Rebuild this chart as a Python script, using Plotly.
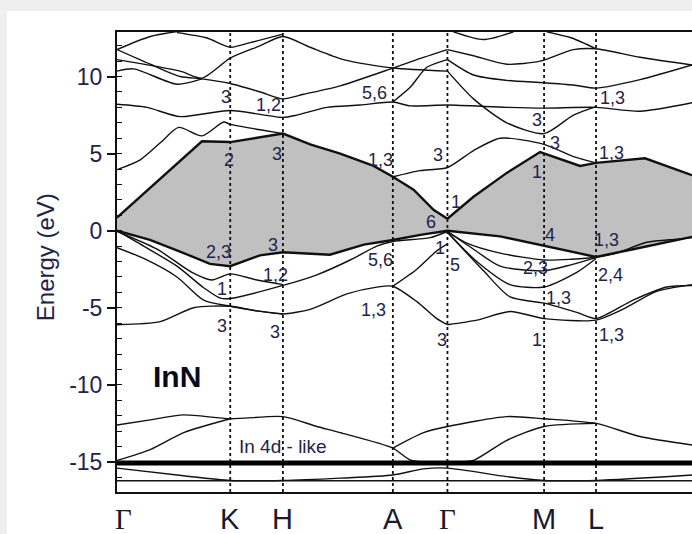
import plotly.graph_objects as go

# ---------------- data ----------------
K_LABELS = ["Γ", "K", "H", "A", "Γ", "M", "L"]
K_POS = [0.0, 1.133, 1.660, 2.760, 3.306, 4.273, 4.793]
K_END = 5.753
E_MIN, E_MAX = -16.95, 12.89
Y_TICKS = [10, 5, 0, -5, -10, -15]
Y_TICK_TEXT = ["10", "5", "0", "-5", "-10", "-15"]

# lowest conduction band (bold)
cb1_k = [0, 0.85, 1.133, 1.66, 1.933, 2.233, 2.567, 2.76, 2.967, 3.167, 3.306, 3.567, 3.90, 4.233, 4.633, 4.793, 5.283, 5.753]
cb1_e = [0.85, 5.8, 5.75, 6.3, 5.6, 5.0, 4.2, 3.5, 2.66, 1.36, 0.78, 2.2, 3.75, 5.1, 4.2, 4.4, 4.7, 3.6]
# top valence band (bold)
vb1_k = [0, 0.33, 0.63, 0.93, 1.133, 1.43, 1.66, 1.80, 2.13, 2.47, 2.76, 3.05, 3.306, 3.833, 4.273, 4.793, 5.163, 5.753]
vb1_e = [0, -0.6, -1.35, -2.15, -2.3, -1.6, -1.4, -1.45, -1.56, -0.9, -0.6, -0.25, 0, -0.37, -1.0, -1.7, -1.2, -0.4]

# other valence bands
vb2_k = [0, 0.267, 0.6, 0.867, 1.033, 1.133, 1.66, 2.0, 2.333, 2.6, 2.76, 3.133, 3.306]
vb2_e = [0, -1.0, -2.3, -3.7, -4.37, -4.4, -3.55, -2.86, -1.9, -1.0, -0.7, -0.45, -0.05]
vb3_k = [0, 0.4, 0.75, 0.95, 1.133, 1.4, 1.66]
vb3_e = [-0.05, -1.2, -2.7, -3.2, -2.8, -3.2, -3.5]
vb4_k = [0, 0.267, 0.6, 0.867, 1.133, 1.4, 1.66, 1.933, 2.3, 2.6, 2.76, 3.0, 3.2, 3.306]
vb4_e = [-1.1, -1.8, -3.0, -4.5, -4.9, -5.2, -5.4, -5.1, -4.1, -3.66, -3.6, -4.6, -5.7, -6.1]
vb5_k = [0, 0.433, 0.767, 1.133, 1.4, 1.66]
vb5_e = [-6.1, -5.9, -5.0, -4.9, -5.2, -5.4]
vb6_k = [2.76, 3.0, 3.2, 3.306]
vb6_e = [-3.6, -2.5, -1.3, -0.85]
vb7_k = [3.306, 3.5, 3.833, 4.273, 4.55, 4.793, 5.0, 5.3, 5.6, 5.753]
vb7_e = [-0.05, -0.8, -1.45, -1.9, -1.85, -1.72, -1.45, -0.75, -0.55, -0.45]
vb8_k = [3.306, 3.567, 3.833, 4.273, 4.55, 4.793]
vb8_e = [-0.05, -1.2, -2.3, -2.6, -2.2, -1.75]
vb9_k = [3.306, 3.6, 3.933, 4.273, 4.6, 4.793]
vb9_e = [-0.1, -2.0, -3.5, -3.65, -2.7, -1.8]
vb10_k = [3.306, 3.667, 3.933, 4.273, 4.6, 4.793, 5.163, 5.5, 5.753]
vb10_e = [-0.1, -2.6, -4.3, -4.7, -5.3, -5.7, -4.5, -3.65, -3.55]
vb11_k = [3.306, 3.6, 3.933, 4.273, 4.793, 5.06, 5.4, 5.753]
vb11_e = [-6.1, -5.8, -5.24, -5.7, -5.8, -5.1, -3.94, -3.5]

# other conduction bands
cb2a_k = [0, 0.233, 0.433, 0.617, 0.85, 1.067, 1.133, 1.433, 1.66]
cb2a_e = [3.96, 4.6, 5.7, 6.7, 6.15, 7.05, 6.9, 6.55, 6.3]
cb2b_k = [2.76, 3.033, 3.306, 3.567, 3.833, 4.273, 4.567, 4.793]
cb2b_e = [3.5, 3.9, 4.1, 5.2, 6.0, 5.6, 4.8, 4.4]
cb3_k = [0, 0.3, 0.633, 1.133, 1.66, 1.80, 2.10, 2.433, 2.76, 2.933, 3.306, 3.90, 4.273, 4.793, 5.233, 5.753]
cb3_e = [8.2, 8.0, 7.4, 7.8, 7.35, 7.5, 8.0, 8.15, 8.35, 8.1, 8.15, 8.0, 7.95, 8.0, 7.75, 8.3]
t1_k = [0, 0.333, 0.633]
t1_e = [11.75, 12.6, 12.95]
t2_k = [0, 0.333, 0.633, 0.85, 1.133, 1.433, 1.66, 1.867, 2.233, 2.76, 3.0, 3.306]
t2_e = [11.75, 10.8, 10.0, 9.85, 9.55, 9.0, 8.55, 8.85, 9.4, 10.55, 11.1, 11.75]
t3_k = [0, 0.633, 0.85, 1.133, 1.433, 1.66, 1.933, 2.267, 2.76, 3.306]
t3_e = [11.1, 10.35, 9.9, 11.2, 12.0, 12.6, 11.9, 11.1, 10.55, 10.35]
t4_k = [0, 0.167, 0.6, 0.85]
t4_e = [10.35, 10.5, 9.5, 9.85]
t5_k = [0.6, 0.9, 1.133, 1.333, 1.66]
t5_e = [12.85, 12.5, 11.9, 12.2, 12.75]
t6_k = [2.76, 2.933, 3.1, 3.306]
t6_e = [8.35, 9.3, 10.6, 11.1]
p_k = [3.306, 3.567, 3.90, 4.233, 4.567, 4.793, 5.233, 5.753]
p_e = [11.75, 11.35, 10.8, 11.0, 11.75, 11.8, 11.25, 10.75]
q_k = [3.306, 3.567, 3.90, 4.273, 4.567, 4.793, 5.233, 5.753]
q_e = [11.1, 10.1, 9.75, 9.6, 9.45, 9.25, 9.8, 10.75]
r_k = [3.306, 3.567, 3.90, 4.273, 4.567, 4.793]
r_e = [10.35, 8.55, 7.0, 6.3, 7.5, 8.05]
s1_k = [3.366, 3.667, 3.967]
s1_e = [12.9, 12.4, 12.9]
s2_k = [4.3, 4.55, 4.793]
s2_e = [12.9, 12.5, 11.8]

# In 4d-like bands
d1_k = [0, 0.333, 0.667, 1.133, 1.66, 2.0, 2.233, 2.76, 2.933, 3.2]
d1_e = [-12.6, -12.27, -11.95, -12.2, -12.06, -12.7, -13.1, -14.1, -14.87, -15.05]
d1b_k = [2.76, 3.067, 3.306, 3.90, 4.273, 4.793, 5.233, 5.753]
d1b_e = [-14.1, -13.1, -12.7, -12.06, -12.2, -12.5, -13.35, -13.9]
d2_k = [0, 0.333, 0.667, 1.133]
d2_e = [-14.9, -14.2, -13.1, -12.2]
d2b_k = [3.4, 3.567, 3.90, 4.273, 4.793]
d2b_e = [-15.0, -14.9, -13.6, -12.7, -12.5]
dlow_k = [0, 0.667, 1.133, 1.66, 2.233, 2.76, 3.067, 3.306, 3.90, 4.273, 4.793, 5.753]
dlow_e = [-15.4, -15.9, -16.2, -16.2, -16.05, -15.85, -15.45, -15.4, -15.95, -16.2, -16.2, -15.85]
dflat_k = [0, 5.753]
dflat_levels = [-14.97, -15.07, -15.17]
dbottom_e = -16.22

# symmetry labels
lab_text = ["3", "1,2", "5,6", "1,3", "3", "3", "1,3", "3", "2", "3", "1,3", "1", "1", "6",
            "4", "1,3", "2,3", "3", "5,6", "1", "5", "2,3", "2,4", "1,2", "1", "1,3", "1,3",
            "3", "3", "3", "1", "1,3"]
lab_k = [1.093, 1.513, 2.573, 4.953, 4.203, 4.383, 2.633, 3.216, 1.116, 1.60, 4.95, 4.20, 3.393, 3.14,
         4.333, 4.90, 1.016, 1.56, 2.633, 3.233, 3.383, 4.183, 4.933, 1.583, 1.05, 2.566, 4.416,
         1.05, 1.583, 3.25, 4.20, 4.95]
lab_e = [8.67, 8.15, 8.93, 8.61, 7.18, 5.69, 4.58, 4.91, 4.58, 4.97, 5.02, 3.83, 1.88, 0.58,
         -0.28, -0.6, -1.36, -0.93, -1.90, -1.14, -2.22, -2.44, -2.87, -2.87, -3.8, -5.14, -4.38,
         -6.18, -6.55, -7.09, -7.09, -6.76]

# ---------------- figure ----------------
fig = go.Figure()

# gap shading between VB top and CB bottom
fig.add_trace(go.Scatter(x=cb1_k + vb1_k[::-1], y=cb1_e + vb1_e[::-1], fill="toself",
                         fillcolor="#c0c0c0", line=dict(width=0), mode="lines",
                         hoverinfo="skip", showlegend=False))

thin = [(vb2_k, vb2_e), (vb3_k, vb3_e), (vb4_k, vb4_e), (vb5_k, vb5_e), (vb6_k, vb6_e),
        (vb7_k, vb7_e), (vb8_k, vb8_e), (vb9_k, vb9_e), (vb10_k, vb10_e), (vb11_k, vb11_e),
        (cb2a_k, cb2a_e), (cb2b_k, cb2b_e), (cb3_k, cb3_e), (t1_k, t1_e), (t2_k, t2_e),
        (t3_k, t3_e), (t4_k, t4_e), (t5_k, t5_e), (t6_k, t6_e), (p_k, p_e), (q_k, q_e),
        (r_k, r_e), (s1_k, s1_e), (s2_k, s2_e),
        (d1_k, d1_e), (d1b_k, d1b_e), (d2_k, d2_e), (d2b_k, d2b_e), (dlow_k, dlow_e),
        (dflat_k, [dbottom_e, dbottom_e])]
for bk, be in thin:
    fig.add_trace(go.Scatter(x=bk, y=be, mode="lines", line=dict(color="#111", width=1.4,
                             shape="spline", smoothing=0.7), hoverinfo="skip", showlegend=False))

for lev in dflat_levels:
    fig.add_trace(go.Scatter(x=dflat_k, y=[lev, lev], mode="lines",
                             line=dict(color="#000", width=1.8), hoverinfo="skip", showlegend=False))

for bk, be in [(cb1_k, cb1_e), (vb1_k, vb1_e)]:
    fig.add_trace(go.Scatter(x=bk, y=be, mode="lines", line=dict(color="#111", width=2.4),
                             hoverinfo="skip", showlegend=False))

shapes = [dict(type="rect", xref="paper", yref="paper", x0=-0.1913, x1=1.02, y0=-0.12, y1=1.0457,
               fillcolor="white", line=dict(width=0), layer="below")]
for kp in K_POS[1:]:
    shapes.append(dict(type="line", xref="x", yref="paper", x0=kp, x1=kp, y0=0, y1=1,
                       line=dict(color="#111", width=1.8, dash="dot")))

annotations = []
for t, kx, ey in zip(lab_text, lab_k, lab_e):
    annotations.append(dict(x=kx, y=ey, xref="x", yref="y", text=t, showarrow=False,
                            font=dict(family="Liberation Sans", size=18, color="#23234a")))
for i, (lbl, kp) in enumerate(zip(K_LABELS, K_POS)):
    fam = "Liberation Serif" if lbl == "Γ" else "Liberation Sans"
    annotations.append(dict(x=kp, y=-0.0587, xref="x", yref="paper", text=lbl, showarrow=False,
                            xshift=6 if i == 0 else 0, yanchor="middle",
                            font=dict(family=fam, size=29, color="#1a1a2e")))
annotations.append(dict(x=0.60, y=-9.47, xref="x", yref="y", text="<b>InN</b>", showarrow=False,
                        font=dict(family="Liberation Sans", size=30, color="#0a0a1a")))
annotations.append(dict(x=1.20, y=-14.0, xref="x", yref="y", text="In 4d - like", showarrow=False,
                        xanchor="left", font=dict(family="Liberation Sans", size=19, color="#23234a")))
annotations.append(dict(x=-0.123, y=0.511, xref="paper", yref="paper", text="Energy (eV)",
                        showarrow=False, textangle=-90, xanchor="center", yanchor="middle",
                        font=dict(family="Liberation Sans", size=24, color="#23234a")))

fig.update_layout(
    width=692, height=534,
    margin=dict(l=117, r=0, t=32, b=42),
    paper_bgcolor="#efefef", plot_bgcolor="white",
    shapes=shapes, annotations=annotations, showlegend=False,
    xaxis=dict(range=[0, K_END], showgrid=False, zeroline=False, showticklabels=False,
               ticks="", showline=True, linecolor="#111", linewidth=2, mirror=True),
    yaxis=dict(range=[E_MIN, E_MAX], showgrid=False, zeroline=False,
               tickvals=Y_TICKS, ticktext=Y_TICK_TEXT, ticks="outside", ticklen=8, tickwidth=1.5,
               tickcolor="#111", showline=True, linecolor="#111", linewidth=2,
               tickfont=dict(family="Liberation Sans", size=23, color="#23234a"),
               minor=dict(dtick=1, ticks="inside", ticklen=5, tickwidth=1.2, tickcolor="#111")),
)

fig.write_html("out.html", config={"displayModeBar": False},
               post_script="document.body.style.margin='0';document.body.style.padding='0';"
                           "document.body.style.overflow='hidden';")
